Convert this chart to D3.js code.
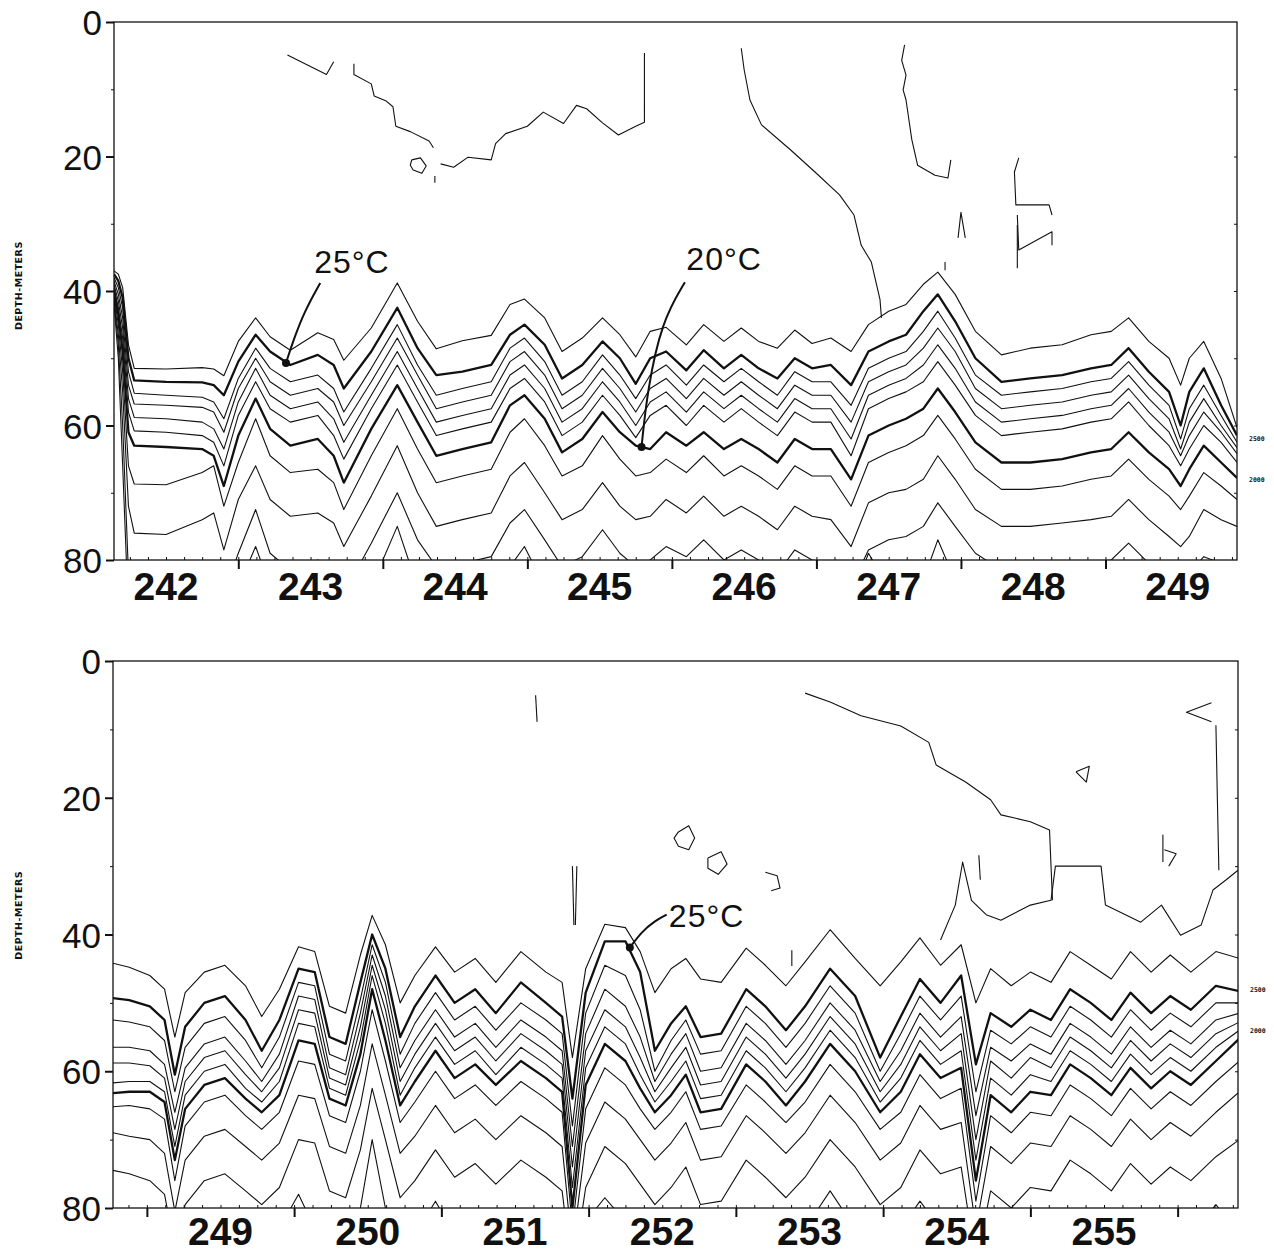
<!DOCTYPE html>
<html>
<head>
<meta charset="utf-8">
<script src="https://cdn.jsdelivr.net/npm/d3@7"></script>
<style>
  body { margin: 0; background: #fff; }
  svg { display: block; }
  .num { font-family: "Liberation Sans", Arial, sans-serif; fill: #111; }
</style>
</head>
<body>
<svg id="chart" width="1274" height="1252"></svg>
<script>
// ---- data ----
var depthTicks = [0, 20, 40, 60, 80];
var topDays = [242, 243, 244, 245, 246, 247, 248, 249];
var bottomDays = [249, 250, 251, 252, 253, 254, 255];
var topRange = [242.14, 249.91];
var bottomRange = [248.77, 256.41];

// top panel: sample times (day) and isotherm depths (m) at each time
var topTimes = [242.14, 242.17, 242.20, 242.24, 242.28, 242.50, 242.75, 242.83, 242.90, 243.00, 243.12, 243.22, 243.36, 243.55, 243.66, 243.73, 243.92, 244.10, 244.24, 244.37, 244.55, 244.75, 244.88, 244.98, 245.12, 245.24, 245.38, 245.52, 245.64, 245.75, 245.85, 245.96, 246.10, 246.22, 246.36, 246.48, 246.60, 246.73, 246.85, 246.97, 247.10, 247.24, 247.36, 247.50, 247.62, 247.74, 247.84, 247.96, 248.10, 248.28, 248.48, 248.70, 248.90, 249.04, 249.16, 249.30, 249.44, 249.52, 249.58, 249.68, 249.80, 249.91];
var top26 = [37.0, 37.5, 39.5, 48, 51.5, 51.6, 51.4, 51.6, 52.6, 47.5, 44.0, 46.8, 48.8, 46.2, 47.2, 50.3, 45.5, 38.8, 44.5, 48.6, 47.4, 46.6, 42.0, 41.2, 44.0, 49.0, 47.0, 44.0, 46.5, 49.8, 46.0, 45.4, 48.0, 45.0, 47.5, 45.5, 47.5, 48.5, 45.8, 47.8, 47.0, 49.0, 45.0, 43.0, 42.0, 39.0, 37.2, 40.5, 46.0, 49.5, 48.5, 48.0, 46.5, 46.0, 44.0, 47.5, 50.0, 54.0, 50.0, 47.5, 53.0, 60.3];
var top25 = [37.5, 38.5, 41, 50, 53.3, 53.5, 53.6, 54.0, 55.5, 50.5, 46.5, 49.0, 51.0, 49.5, 51.0, 54.5, 49.0, 42.5, 48.5, 52.5, 52.0, 51.0, 46.5, 45.0, 48.0, 53.0, 51.0, 47.5, 50.0, 53.8, 50.0, 49.0, 51.8, 48.8, 51.5, 49.5, 51.5, 53.0, 50.0, 51.5, 51.0, 54.0, 49.0, 47.5, 46.5, 43.0, 40.5, 44.5, 50.0, 53.5, 53.0, 52.5, 51.5, 51.0, 48.5, 52.0, 55.0, 60.0, 55.0, 51.5, 57.0, 61.5];
var top24 = [38, 39.5, 42.5, 52, 55.2, 55.5, 55.8, 56.5, 59.0, 53.0, 48.5, 51.5, 53.5, 52.5, 54.5, 58.0, 51.5, 45.0, 51.0, 55.5, 54.5, 53.5, 48.5, 47.0, 50.5, 55.5, 53.5, 49.5, 52.5, 56.0, 52.5, 51.0, 54.0, 51.0, 53.5, 51.5, 53.5, 55.5, 52.0, 53.5, 53.5, 57.0, 51.5, 50.0, 49.0, 46.0, 43.0, 47.0, 52.5, 55.5, 55.0, 54.5, 53.5, 53.0, 50.5, 54.0, 57.0, 62.0, 57.5, 54.0, 58.5, 62.5];
var top23 = [38.5, 40.5, 44, 54, 56.8, 57.0, 57.3, 58.0, 61.0, 54.5, 50.0, 53.5, 55.5, 54.5, 56.5, 60.0, 53.5, 47.0, 52.5, 57.5, 56.5, 55.5, 50.5, 49.0, 52.5, 57.5, 55.5, 51.5, 54.5, 58.0, 54.5, 53.0, 56.0, 53.0, 55.5, 53.5, 55.5, 57.5, 54.0, 55.5, 55.5, 59.5, 53.5, 52.0, 51.0, 48.5, 45.5, 49.0, 54.5, 57.5, 57.0, 56.5, 55.5, 55.0, 52.5, 56.0, 59.0, 63.5, 59.5, 56.0, 60.0, 63.3];
var top22 = [39, 41.5, 45.5, 56, 58.8, 59.0, 59.5, 60.5, 63.5, 56.5, 51.5, 55.5, 57.5, 56.5, 59.0, 62.5, 55.5, 49.0, 54.5, 59.5, 58.5, 57.5, 52.5, 51.0, 54.5, 59.5, 57.5, 53.5, 56.5, 60.0, 56.5, 55.0, 58.0, 55.0, 57.5, 55.5, 57.5, 59.5, 56.0, 57.5, 57.5, 62.0, 55.5, 54.0, 53.0, 51.0, 48.0, 51.5, 56.5, 59.5, 59.0, 58.5, 57.5, 57.0, 54.5, 58.0, 61.0, 64.5, 61.5, 58.0, 61.0, 64.2];
var top21 = [39.5, 42.5, 47, 58, 60.8, 61.0, 61.5, 62.5, 66.0, 58.5, 53.5, 57.5, 59.5, 58.5, 61.5, 65.0, 57.5, 51.0, 56.5, 61.5, 60.5, 59.5, 54.5, 53.0, 56.5, 61.5, 59.5, 55.5, 58.5, 61.8, 58.5, 57.0, 60.0, 57.0, 59.5, 57.5, 59.5, 61.5, 58.0, 59.5, 59.5, 64.5, 57.5, 56.0, 55.0, 53.5, 50.5, 54.0, 58.5, 61.5, 61.0, 60.5, 59.5, 59.0, 56.5, 60.0, 63.0, 66.0, 63.5, 60.0, 62.5, 65.5];
var top20 = [40, 43.5, 49, 61, 63.0, 63.2, 63.5, 64.5, 69.0, 61.5, 56.0, 60.5, 63.0, 62.0, 64.5, 68.5, 60.5, 54.0, 59.5, 64.5, 63.5, 62.5, 57.0, 55.5, 59.0, 64.0, 62.0, 58.0, 61.0, 63.0, 63.5, 61.0, 63.0, 61.0, 63.5, 62.0, 63.5, 65.5, 62.0, 63.5, 63.5, 68.0, 61.5, 60.0, 59.0, 57.5, 54.5, 58.0, 62.5, 65.5, 65.5, 65.0, 64.0, 63.5, 61.0, 64.0, 66.5, 69.0, 66.5, 63.0, 65.5, 67.8];
var top19 = [40.5, 45, 52, 66, 68.7, 68.8, 67.0, 66.0, 72.0, 65.5, 59.0, 64.5, 67.0, 66.5, 68.5, 72.5, 64.5, 57.5, 63.5, 68.5, 67.5, 66.5, 61.0, 59.0, 63.0, 67.5, 66.0, 61.5, 65.0, 67.5, 67.0, 65.0, 67.0, 64.5, 67.5, 66.0, 67.5, 69.5, 66.0, 67.5, 67.5, 72.0, 65.5, 64.0, 63.0, 61.5, 58.5, 62.0, 66.5, 69.5, 69.5, 69.0, 68.0, 67.5, 65.0, 68.0, 70.5, 72.5, 70.5, 67.0, 69.0, 71.0];
var top18 = [41, 46.5, 55, 72, 76.0, 76.2, 74.0, 73.0, 78.5, 71.0, 66.0, 71.0, 73.5, 73.0, 74.5, 78.0, 70.5, 63.0, 70.0, 75.0, 74.0, 73.0, 67.5, 65.5, 70.0, 74.0, 72.5, 68.5, 72.0, 74.0, 73.5, 71.0, 73.0, 70.5, 73.5, 72.0, 73.5, 75.5, 72.0, 73.5, 74.0, 78.0, 71.5, 70.0, 69.5, 68.0, 64.5, 68.0, 72.5, 75.0, 75.0, 74.5, 74.0, 73.5, 71.0, 74.0, 76.5, 78.0, 76.5, 72.5, 74.0, 75.0];
var top17 = [41.5, 48, 60, 82, 85, 85, 84, 82, 85, 79, 72.5, 79, 81.5, 80, 81, 85, 77.5, 70, 77, 81, 80.5, 79.5, 74.5, 72.5, 77, 81, 79.5, 75.5, 79, 81, 80, 78, 79.5, 77, 80, 78.5, 80, 82, 78.5, 80, 80.5, 84, 78.5, 77, 76.5, 75, 71.5, 75, 79, 81.5, 81.5, 81, 80.5, 80, 77.5, 80.5, 82, 83, 82, 79.5, 80.5, 81.5];
var top16 = [42, 50, 66, 88, 86, 86, 86, 86, 86, 84, 78, 84, 86, 86, 86, 86, 84, 75, 84, 86, 86, 84, 81, 78, 84, 86, 84, 80.5, 84, 86, 86, 86, 86, 86, 86, 86, 86, 86, 86, 86, 86, 86, 79, 84, 86, 83, 77, 83, 86, 86, 86, 86, 86, 86, 86, 86, 86, 86, 84, 84, 84, 86];

// top panel: near-surface isotherm pieces [day, depth]
var topSurfA = [[243.34, 4.9], [243.61, 7.8], [243.66, 5.9]];
var topSurfB = [[243.80, 6.2], [243.80, 7.8], [243.92, 9.2], [243.94, 11.0], [244.02, 11.7], [244.07, 12.6], [244.09, 15.5], [244.19, 16.3], [244.32, 17.7], [244.35, 18.7]];
var topSurfC = [[244.40, 21.1], [244.49, 21.6], [244.59, 20.1], [244.75, 20.5], [244.78, 18.1], [244.85, 16.6], [245.00, 15.5], [245.11, 13.4], [245.25, 15.1], [245.34, 12.4], [245.41, 12.9], [245.52, 15.0], [245.63, 16.8], [245.75, 15.5], [245.81, 14.9], [245.81, 4.6]];
var topLoop = [[244.20, 20.5], [244.26, 20.2], [244.30, 21.4], [244.27, 22.5], [244.21, 22.0], [244.19, 21.3], [244.20, 20.5]];
var topBit = [[244.36, 22.9], [244.36, 23.9]];
var topSurfD = [[246.48, 3.9], [246.50, 7.1], [246.54, 11.6], [246.62, 15.3], [246.82, 19.0], [246.99, 22.3], [247.16, 25.7], [247.26, 28.7], [247.31, 33.2], [247.38, 35.7], [247.44, 41.3], [247.45, 44.0]];
var topSurfE = [[247.61, 3.4], [247.59, 5.7], [247.62, 7.9], [247.60, 10.1], [247.62, 11.6], [247.66, 17.5], [247.70, 21.3], [247.82, 22.8], [247.91, 23.2], [247.93, 20.5]];
var topSurfF = [[248.40, 20.2], [248.37, 22.3], [248.38, 27.2], [248.61, 27.2], [248.63, 28.7]];
var topSurfG = [[248.39, 28.7], [248.40, 33.9], [248.63, 31.2], [248.63, 33.2]];
var topSurfH = [[248.39, 30.2], [248.39, 36.6]];
var topSurfI = [[247.98, 32.1], [248.00, 28.3], [248.03, 32.1]];
var topSurfJ = [[247.89, 35.7], [247.89, 36.9]];

// bottom panel
var bottomTimes = [248.77, 248.88, 249.02, 249.12, 249.19, 249.26, 249.39, 249.53, 249.67, 249.78, 249.90, 250.03, 250.14, 250.24, 250.35, 250.45, 250.53, 250.62, 250.72, 250.82, 250.96, 251.09, 251.23, 251.37, 251.54, 251.71, 251.82, 251.89, 251.98, 252.11, 252.25, 252.35, 252.45, 252.56, 252.66, 252.76, 252.90, 253.07, 253.20, 253.34, 253.47, 253.64, 253.81, 253.98, 254.12, 254.25, 254.39, 254.53, 254.63, 254.73, 254.87, 255.00, 255.14, 255.27, 255.41, 255.55, 255.68, 255.82, 255.95, 256.09, 256.26, 256.42];
var bottom26 = [44.2, 44.8, 46.0, 48.0, 55.0, 48.5, 45.5, 44.5, 47.5, 52.0, 48.0, 41.8, 42.5, 50.5, 51.5, 43.0, 37.2, 41.5, 50.0, 46.0, 41.8, 45.5, 43.5, 47.0, 42.5, 45.5, 47.0, 58.0, 45.0, 38.5, 39.0, 42.5, 48.5, 45.0, 43.5, 46.5, 47.0, 42.0, 44.5, 47.5, 44.0, 39.3, 43.5, 47.5, 44.0, 40.5, 44.5, 41.5, 50.0, 45.0, 47.5, 45.5, 47.0, 42.5, 44.5, 46.5, 42.5, 45.5, 43.0, 45.5, 42.5, 43.5];
var bottom25 = [49.3, 49.6, 50.5, 52.5, 60.5, 53.5, 50.0, 49.0, 52.5, 57.0, 52.5, 45.0, 45.5, 55.0, 56.0, 47.0, 40.0, 45.0, 55.0, 50.5, 46.0, 50.0, 48.0, 51.5, 47.0, 50.0, 52.0, 64.0, 48.5, 41.0, 41.0, 45.5, 57.0, 53.0, 50.5, 55.0, 54.5, 48.0, 50.5, 54.0, 50.5, 45.0, 49.0, 58.0, 52.0, 46.5, 50.0, 46.0, 59.0, 51.5, 53.5, 51.0, 52.5, 48.0, 50.0, 52.5, 48.5, 51.5, 49.0, 51.0, 47.5, 48.3];
var bottom24 = [52.5, 52.8, 53.5, 55.5, 63.0, 56.5, 53.0, 52.0, 55.5, 59.5, 55.0, 47.0, 47.5, 57.5, 58.5, 49.5, 41.5, 47.0, 57.5, 53.0, 48.5, 52.5, 50.5, 54.0, 50.0, 52.5, 54.5, 68.0, 51.5, 44.5, 46.0, 51.0, 60.0, 55.5, 52.5, 57.5, 57.0, 50.5, 53.0, 56.5, 53.0, 47.5, 51.5, 60.0, 54.5, 49.0, 52.5, 49.0, 63.0, 54.0, 56.0, 53.5, 55.0, 50.5, 52.5, 55.0, 51.0, 54.0, 51.5, 53.5, 50.0, 50.0];
var bottom23 = [56.5, 56.5, 57.0, 59.0, 66.0, 59.5, 56.0, 55.0, 58.5, 61.5, 57.5, 49.0, 49.5, 59.5, 60.5, 51.5, 43.0, 49.0, 59.5, 55.5, 51.0, 55.0, 53.0, 56.5, 52.5, 55.0, 57.0, 71.0, 54.5, 48.0, 50.5, 55.0, 61.5, 57.5, 54.5, 60.0, 59.5, 53.0, 55.5, 59.0, 55.5, 50.0, 54.0, 61.5, 57.0, 51.5, 55.0, 52.0, 66.5, 56.5, 58.5, 56.0, 57.5, 53.0, 55.0, 57.5, 53.5, 56.5, 54.0, 56.0, 52.5, 51.5];
var bottom22 = [58.8, 58.8, 59.2, 61.0, 68.5, 61.5, 58.0, 57.0, 60.5, 63.0, 59.5, 51.0, 51.5, 61.0, 62.0, 53.5, 44.5, 51.0, 61.5, 57.5, 53.0, 57.0, 55.0, 58.5, 54.5, 57.0, 59.0, 74.0, 57.0, 51.0, 53.5, 58.0, 63.0, 59.5, 56.5, 62.0, 61.5, 55.0, 57.5, 61.0, 57.5, 52.0, 56.0, 63.0, 59.0, 53.5, 57.0, 54.5, 70.0, 58.5, 61.0, 58.0, 59.5, 55.0, 57.0, 59.5, 55.5, 58.5, 56.0, 58.0, 54.5, 52.8];
var bottom21 = [61.7, 61.5, 61.5, 63.0, 71.0, 63.5, 60.0, 59.0, 62.5, 64.5, 61.5, 53.0, 53.5, 62.5, 63.5, 55.5, 46.0, 53.0, 63.5, 59.5, 55.0, 59.0, 57.0, 60.5, 56.5, 59.0, 61.0, 77.0, 59.5, 53.5, 56.0, 60.5, 64.5, 61.5, 58.5, 64.0, 63.5, 57.0, 59.5, 63.0, 59.5, 54.0, 58.0, 64.5, 61.0, 55.5, 59.0, 57.0, 73.0, 61.0, 63.5, 60.5, 61.5, 57.0, 59.0, 61.5, 57.5, 60.5, 58.0, 60.0, 56.5, 54.0];
var bottom20 = [63.2, 63.0, 63.0, 64.5, 73.0, 65.5, 62.0, 61.0, 64.0, 66.0, 63.5, 55.5, 56.0, 64.0, 65.0, 57.5, 48.0, 55.5, 65.0, 61.5, 57.0, 61.0, 59.0, 62.0, 58.5, 61.0, 63.0, 80.0, 62.0, 56.0, 58.5, 62.5, 66.0, 63.5, 60.5, 66.0, 65.5, 59.0, 61.5, 65.0, 61.5, 56.0, 60.0, 66.0, 63.0, 57.5, 61.0, 59.5, 76.0, 63.5, 66.0, 63.0, 63.5, 59.0, 61.0, 63.5, 59.5, 62.5, 60.0, 62.0, 58.5, 55.2];
var bottom19 = [65.2, 65.0, 65.5, 67.0, 76.0, 68.0, 64.5, 63.5, 66.5, 68.5, 66.0, 58.5, 59.0, 66.5, 67.5, 60.0, 51.0, 58.5, 67.5, 64.5, 60.0, 64.0, 62.0, 65.0, 61.5, 64.0, 66.0, 83.0, 65.5, 59.5, 62.0, 65.5, 68.5, 66.0, 63.0, 68.5, 68.0, 62.0, 64.5, 67.5, 64.5, 59.0, 63.0, 68.5, 66.0, 60.5, 64.0, 62.5, 79.0, 66.5, 69.0, 66.0, 66.5, 62.0, 64.0, 66.5, 62.5, 65.5, 63.0, 65.0, 61.5, 58.5];
var bottom18 = [69.0, 69.5, 70.0, 72.0, 80.5, 73.0, 69.5, 68.5, 71.0, 73.0, 70.5, 63.5, 64.0, 71.0, 72.0, 65.0, 56.0, 63.5, 72.0, 69.5, 65.0, 69.0, 67.0, 70.0, 66.5, 69.0, 71.0, 86.0, 70.5, 64.5, 67.0, 70.0, 73.0, 70.5, 67.5, 73.0, 72.5, 66.5, 69.0, 72.0, 69.0, 63.5, 67.5, 73.0, 70.5, 65.0, 68.5, 67.5, 83.0, 71.0, 73.5, 70.5, 71.0, 66.5, 68.5, 71.0, 67.0, 70.0, 67.5, 69.5, 66.0, 63.0];
var bottom17 = [74.5, 75.0, 76.0, 78.0, 86, 79.5, 76.0, 75.0, 77.5, 79.5, 77.0, 70.0, 70.5, 77.5, 78.5, 71.5, 62.5, 70.0, 78.5, 76.0, 71.5, 75.5, 73.5, 76.5, 73.0, 75.5, 77.5, 90, 77.0, 71.0, 73.5, 76.5, 79.5, 77.0, 74.0, 79.5, 79.0, 73.0, 75.5, 78.5, 75.5, 70.0, 74.0, 79.5, 77.0, 71.5, 75.0, 74.0, 88, 77.5, 80.0, 77.0, 77.5, 73.0, 75.0, 77.5, 73.5, 76.5, 74.0, 76.0, 72.5, 70.0];
var bottom16 = [86, 86, 86, 86, 86, 86, 86, 86, 86, 86, 83, 78, 83, 86, 86, 80, 70, 80, 86, 84, 79, 84, 86, 86, 86, 86, 86, 92, 82, 78.5, 82, 86, 86, 86, 86, 86, 86, 86, 86, 86, 83, 77.5, 83, 86, 83, 79, 83, 86, 86, 86, 86, 86, 84, 80.5, 84, 86, 86, 86, 86, 84, 79.5, 84];

var bottomSurfA = [[253.47, 4.7], [253.64, 6.0], [253.85, 8.0], [254.12, 9.5], [254.31, 11.9], [254.36, 15.2], [254.56, 17.7], [254.73, 20.3], [254.80, 22.5], [255.00, 23.5], [255.13, 24.7], [255.15, 35.0]];
var bottom27 = [[254.39, 40.8], [254.49, 35.7], [254.54, 29.4], [254.60, 35.0], [254.70, 37.1], [254.80, 37.9], [255.00, 35.7], [255.14, 35.0], [255.17, 30.0], [255.48, 30.0], [255.51, 35.7], [255.75, 38.2], [255.89, 35.7], [256.02, 40.1], [256.16, 38.6], [256.24, 33.5], [256.33, 32.0], [256.41, 30.6]];
var bottomSurfB = [[256.23, 6.1], [256.06, 7.5], [256.23, 8.9]];
var bottomSurfC = [[256.26, 9.4], [256.27, 20.3], [256.28, 30.6]];
var bottomLoopA = [[255.31, 16.2], [255.40, 15.4], [255.38, 17.7], [255.31, 16.2]];
var bottomSurfD = [[255.90, 25.4], [255.90, 29.4]];
var bottomSurfE = [[255.91, 27.6], [255.99, 28.2], [255.94, 30.0]];
var bottomSurfF = [[251.64, 5.0], [251.65, 8.9]];
var bottomLoopB = [[252.61, 25.0], [252.68, 24.1], [252.72, 25.9], [252.68, 27.6], [252.61, 27.1], [252.58, 25.9], [252.61, 25.0]];
var bottomLoopC = [[252.81, 28.8], [252.90, 27.9], [252.94, 29.7], [252.88, 31.2], [252.81, 30.3], [252.81, 28.8]];
var bottomSurfG = [[253.20, 30.9], [253.28, 31.4], [253.30, 33.2], [253.24, 33.6]];
var bottomSurfH = [[251.89, 30.0], [251.90, 38.6]];
var bottomSurfI = [[251.92, 30.0], [251.91, 38.6]];
var bottomSurfJ = [[253.38, 42.3], [253.38, 44.6]];
var bottomSurfK = [[254.65, 28.4], [254.66, 32.0]];

// labels
var topNotes = [
  { text: "25°C", tx: 243.525, td: 37.3, dot: [243.33, 50.7], path: [[243.567, 38.8], [243.456, 43.1], [243.38, 47.4], [243.33, 50.7]] },
  { text: "20°C", tx: 246.1, td: 36.9, dot: [245.79, 63.2], path: [[246.09, 38.7], [245.93, 44.5], [245.83, 54.8], [245.79, 63.2]] }
];
var bottomNotes = [
  { text: "25°C", tx: 252.545, td: 38.9, dot: [252.28, 41.9], path: [[252.53, 37.1], [252.45, 38.0], [252.36, 39.6], [252.28, 41.9]] }
];
var sideLabels = ["2500", "2000"];

// ---- drawing ----
var svg = d3.select("#chart");
var ink = "#111";

function series(times, depths) {
  return times.map(function (t, i) { return [t, depths[i]]; });
}

function panel(cfg) {
  var x = d3.scaleLinear().domain(cfg.range).range([cfg.left, cfg.right]);
  var y = d3.scaleLinear().domain([0, 80]).range([cfg.top, cfg.bottom]);
  var g = svg.append("g");

  // frame
  g.append("rect")
    .attr("x", cfg.left).attr("y", cfg.top)
    .attr("width", cfg.right - cfg.left).attr("height", cfg.bottom - cfg.top)
    .attr("fill", "none").attr("stroke", ink).attr("stroke-width", 1.3);

  // left axis
  var yAxis = g.append("g").attr("transform", "translate(" + cfg.left + ",0)")
    .call(d3.axisLeft(y).tickValues(depthTicks).tickSize(8).tickPadding(4));
  yAxis.select(".domain").remove();
  yAxis.selectAll("line").attr("stroke", ink).attr("stroke-width", 2);
  yAxis.selectAll("text").attr("class", "num").attr("font-size", 35)
    .attr("dy", "0.36em");
  g.append("g").attr("transform", "translate(" + cfg.left + ",0)")
    .call(d3.axisLeft(y).tickValues([10, 30, 50, 70]).tickSize(3).tickFormat(""))
    .call(function (a) { a.select(".domain").remove(); a.selectAll("line").attr("stroke", ink); });
  g.append("g").attr("transform", "translate(" + cfg.right + ",0)")
    .call(d3.axisLeft(y).tickValues([10, 20, 30, 40, 50, 60, 70]).tickSize(3).tickFormat(""))
    .call(function (a) { a.select(".domain").remove(); a.selectAll("line").attr("stroke", ink); });

  // bottom axis: day boundaries
  var days = d3.range(Math.ceil(cfg.range[0]), Math.floor(cfg.range[1]) + 1);
  var xAxis = g.append("g").attr("transform", "translate(0," + cfg.bottom + ")")
    .call(d3.axisBottom(x).tickValues(days).tickSize(9).tickFormat(""));
  xAxis.select(".domain").remove();
  xAxis.selectAll("line").attr("stroke", ink).attr("stroke-width", 2);
  var minor = d3.range(Math.ceil(cfg.range[0] * 8), Math.floor(cfg.range[1] * 8) + 1).map(function (d) { return d / 8; });
  g.append("g").attr("transform", "translate(0," + cfg.bottom + ")")
    .call(d3.axisTop(x).tickValues(minor).tickSize(3).tickFormat(""))
    .call(function (a) { a.select(".domain").remove(); a.selectAll("line").attr("stroke", ink); });

  g.selectAll(".dayLabel").data(cfg.days).enter().append("text")
    .attr("class", "num")
    .attr("x", function (d) { return x(d + 0.5); })
    .attr("y", cfg.bottom + cfg.labelGap)
    .attr("text-anchor", "middle")
    .attr("font-size", 39).attr("font-weight", "bold")
    .text(function (d) { return d; });

  // axis title
  g.append("text")
    .attr("transform", "translate(22," + y(cfg.titleDepth) + ") rotate(-90)")
    .attr("text-anchor", "middle")
    .attr("font-family", "DejaVu Sans, sans-serif").attr("font-weight", "bold")
    .attr("font-size", 9.5).attr("letter-spacing", 0.5).attr("fill", ink)
    .text("DEPTH-METERS");

  // contour level labels at the right edge
  g.selectAll(".side").data(sideLabels).enter().append("text")
    .attr("x", cfg.right + 12)
    .attr("y", function (d, i) { return y(cfg.sideDepths[i]); })
    .attr("dy", "0.35em")
    .attr("font-family", "DejaVu Sans Mono, monospace").attr("font-weight", "bold")
    .attr("font-size", 6.5).attr("fill", ink)
    .text(function (d) { return d; });

  // isotherms
  var line = d3.line().x(function (d) { return x(d[0]); }).y(function (d) { return y(d[1]); });
  var clipId = "clip" + cfg.top;
  svg.append("clipPath").attr("id", clipId).append("rect")
    .attr("x", cfg.left).attr("y", cfg.top).attr("width", cfg.right - cfg.left).attr("height", cfg.bottom - cfg.top);
  var lines = g.append("g").attr("clip-path", "url(#" + clipId + ")");
  cfg.isotherms.forEach(function (iso) {
    lines.append("path").attr("d", line(iso.pts))
      .attr("fill", "none").attr("stroke", ink)
      .attr("stroke-width", iso.bold ? 2.3 : 1.1)
      .attr("stroke-linejoin", "round");
  });

  // annotations
  var curve = d3.line().x(function (d) { return x(d[0]); }).y(function (d) { return y(d[1]); }).curve(d3.curveBasis);
  cfg.notes.forEach(function (n) {
    g.append("path").attr("d", curve(n.path)).attr("fill", "none").attr("stroke", ink).attr("stroke-width", 2);
    g.append("circle").attr("cx", x(n.dot[0])).attr("cy", y(n.dot[1])).attr("r", 4).attr("fill", ink);
    g.append("text").attr("class", "num")
      .attr("x", x(n.tx)).attr("y", y(n.td))
      .attr("font-size", 32).attr("letter-spacing", 1)
      .text(n.text);
  });
}

var topIso = [top26, top25, top24, top23, top22, top21, top20, top19, top18, top17, top16].map(function (d) {
  return { pts: series(topTimes, d), bold: d === top25 || d === top20 };
});
[topSurfA, topSurfB, topSurfC, topLoop, topBit, topSurfD, topSurfE, topSurfF, topSurfG, topSurfH, topSurfI, topSurfJ].forEach(function (d) {
  topIso.push({ pts: d, bold: false });
});

var bottomIso = [bottom26, bottom25, bottom24, bottom23, bottom22, bottom21, bottom20, bottom19, bottom18, bottom17, bottom16].map(function (d) {
  return { pts: series(bottomTimes, d), bold: d === bottom25 || d === bottom20 };
});
[bottomSurfA, bottom27, bottomSurfB, bottomSurfC, bottomLoopA, bottomSurfD, bottomSurfE, bottomSurfF, bottomLoopB, bottomLoopC, bottomSurfG, bottomSurfH, bottomSurfI, bottomSurfJ, bottomSurfK].forEach(function (d) {
  bottomIso.push({ pts: d, bold: false });
});

panel({
  range: topRange, days: topDays, left: 114, right: 1237, top: 22, bottom: 560, labelGap: 40,
  sideDepths: [61.9, 68.0], titleDepth: 39.2,
  isotherms: topIso,
  notes: topNotes
});
panel({
  range: bottomRange, days: bottomDays, left: 113, right: 1238, top: 661, bottom: 1208, labelGap: 37,
  sideDepths: [48.1, 54.0], titleDepth: 37.2,
  isotherms: bottomIso,
  notes: bottomNotes
});
</script>
</body>
</html>
